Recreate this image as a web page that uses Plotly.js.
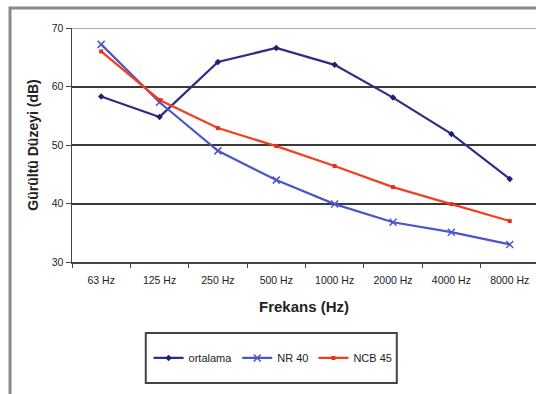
<!DOCTYPE html>
<html>
<head>
<meta charset="utf-8">
<script src="https://cdn.plot.ly/plotly-3.0.1.min.js"></script>
<style>html,body{margin:0;padding:0;background:#fff;}#chart{width:536px;height:394px;}</style>
</head>
<body>
<div id="chart"></div>
<script>
const categories = ["63 Hz", "125 Hz", "250 Hz", "500 Hz", "1000 Hz", "2000 Hz", "4000 Hz", "8000 Hz"];
const ortalama = [58.3, 54.8, 64.2, 66.6, 63.7, 58.1, 51.9, 44.2];
const nr40 = [67.2, 57.3, 49.0, 44.0, 39.9, 36.8, 35.1, 33.0];
const ncb45 = [66.0, 57.7, 52.9, 49.8, 46.4, 42.8, 39.9, 37.0];
const seriesNames = ["ortalama", "NR 40", "NCB 45"];
const yTicks = [30, 40, 50, 60, 70];

const traces = [
  {x: categories, y: ortalama, name: seriesNames[0], type: "scatter", mode: "lines+markers",
   line: {color: "#2B2E86", width: 2.2}, marker: {symbol: "diamond", size: 5, color: "#1E2070"}},
  {x: categories, y: nr40, name: seriesNames[1], type: "scatter", mode: "lines+markers",
   line: {color: "#4C56C8", width: 2.2}, marker: {symbol: "x-thin-open", size: 7, color: "#4C56C8", line: {width: 1.5, color: "#4C56C8"}}},
  {x: categories, y: ncb45, name: seriesNames[2], type: "scatter", mode: "lines+markers",
   line: {color: "#F2401E", width: 2.2}, marker: {symbol: "square", size: 4, color: "#E53018"}}
];

const layout = {
  width: 536, height: 394,
  margin: {l: 72, r: 0, t: 28, b: 132},
  paper_bgcolor: "#ffffff", plot_bgcolor: "#ffffff",
  font: {family: "Liberation Sans, Arial, sans-serif", size: 11, color: "#222"},
  showlegend: true,
  legend: {orientation: "h", x: 0.165, y: -0.41, xanchor: "left", yanchor: "middle",
           bgcolor: "rgba(0,0,0,0)", borderwidth: 0, font: {size: 11, color: "#222"}},
  xaxis: {type: "category", range: [-0.5, 7.45], showgrid: false, zeroline: false,
          showline: true, linecolor: "#444", linewidth: 1.5, ticks: "outside", ticklen: 4,
          tickcolor: "#444", tickson: "boundaries", tickfont: {size: 10.5, color: "#222"},
          ticklabelstandoff: 8,
          title: {text: "<b>Frekans (Hz)</b>", font: {size: 15, color: "#222"}, standoff: 16}},
  yaxis: {range: [30, 70], tickvals: yTicks, showgrid: true, gridcolor: "#3a3a3a", gridwidth: 2,
          zeroline: false, showline: true, linecolor: "#444", linewidth: 1.5, ticks: "outside",
          ticklen: 5, tickcolor: "#444", tickfont: {size: 10.5, color: "#222"},
          title: {text: "<b>Gürültü Düzeyi (dB)</b>", font: {size: 14, color: "#222"}, standoff: 10}},
  shapes: [
    {type: "rect", xref: "paper", yref: "paper", x0: -0.1336, x1: 1.2, y0: -1.0, y1: 1.0855,
     line: {color: "#8a8a8a", width: 3}},
    {type: "rect", xref: "paper", yref: "paper", x0: 0.159, x1: 0.7, y0: -0.303, y1: -0.517,
     line: {color: "#444", width: 2}},
    {type: "line", xref: "paper", yref: "y", x0: 0, x1: 1, y0: 70, y1: 70,
     line: {color: "#aaaaaa", width: 2}}
  ]
};

Plotly.newPlot("chart", traces, layout, {displayModeBar: false, staticPlot: true});
</script>
</body>
</html>
